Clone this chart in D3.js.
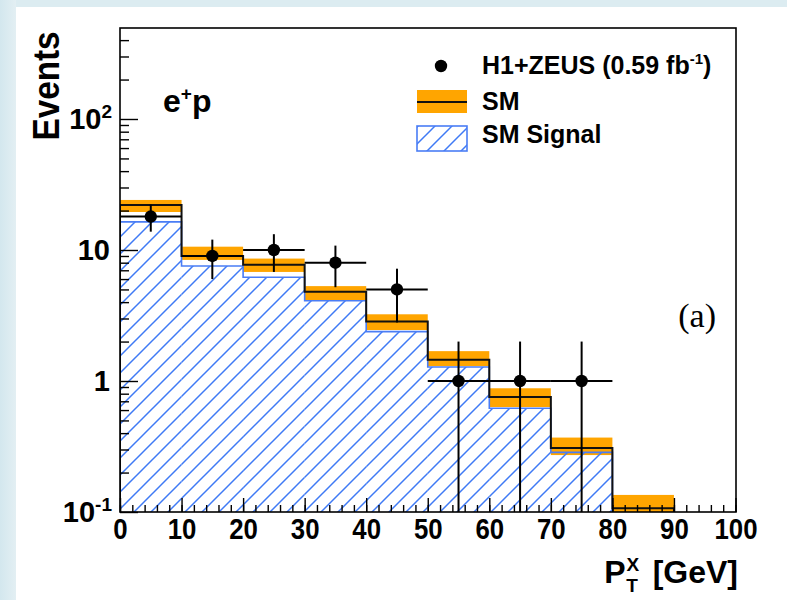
<!DOCTYPE html>
<html>
<head>
<meta charset="utf-8">
<script src="https://cdn.jsdelivr.net/npm/d3@7"></script>
<style>
  body { margin: 0; background: #ffffff; }
  svg { display: block; }
</style>
</head>
<body>
<svg id="chart" width="787" height="600"></svg>
<script>
// ---- data: P_T^X distribution, e+p ----
const binEdges   = [0, 10, 20, 30, 40, 50, 60, 70, 80, 90];
const smTotal    = [22.1, 9.0, 7.7, 4.8, 2.84, 1.45, 0.755, 0.308, 0.107];
const smBandLow  = [19.5, 8.4, 6.8, 4.15, 2.45, 1.30, 0.633, 0.272, 0.08];
const smBandHigh = [24.1, 10.6, 8.6, 5.3, 3.23, 1.69, 0.88, 0.37, 0.135];
const smSignal   = [16.4, 7.55, 6.2, 4.1, 2.38, 1.28, 0.62, 0.285, 0];

const dataCenters = [5, 15, 25, 35, 45, 55, 65, 75];
const dataEvents  = [18, 9, 10, 8, 5, 1, 1, 1];
const dataErrDown = [4.2, 3.0, 3.2, 2.8, 2.2, 1.0, 1.0, 1.0];
const dataErrUp   = [4.2, 3.0, 3.2, 2.8, 2.2, 1.0, 1.0, 1.0];
const dataHalfWidth = 5;

const xMajorTicks = [0, 10, 20, 30, 40, 50, 60, 70, 80, 90, 100];
const xMinorTicks = d3.range(0, 101, 2);
const yMajorTicks = [0.1, 1, 10, 100];
const yLabelBase  = ["10", "1", "10", "10"];
const yLabelExp   = ["-1", "", "", "2"];

const SANS = "'Liberation Sans', Arial, Helvetica, sans-serif";
const SERIF = "'Liberation Serif', 'Times New Roman', serif";

// ---- layout ----
const svg = d3.select("#chart");
const W = 787, H = 600;
const plot = { left: 120, right: 736, top: 28, bottom: 512 };

const x = d3.scaleLinear().domain([0, 100]).range([plot.left, plot.right - 0.5]);
const y = d3.scaleLog().domain([0.1, 495]).range([plot.bottom, plot.top]).clamp(true);

// page backdrop: pale strips on the left and top
const bg = svg.append("defs");
const gradL = bg.append("linearGradient").attr("id", "stripL").attr("x1", 0).attr("x2", 1);
gradL.append("stop").attr("offset", "0%").attr("stop-color", "#d3e7ee");
gradL.append("stop").attr("offset", "100%").attr("stop-color", "#e3eff3");
svg.append("rect").attr("x", 0).attr("y", 0).attr("width", W).attr("height", H).attr("fill", "#ffffff");
svg.append("rect").attr("x", 0).attr("y", 0).attr("width", W).attr("height", 7).attr("fill", "#dcecf1");
svg.append("rect").attr("x", 0).attr("y", 0).attr("width", 16).attr("height", H).attr("fill", "url(#stripL)");

// hatch pattern for the signal histogram
const hs = 17;
const pat = bg.append("pattern").attr("id", "hatch")
  .attr("patternUnits", "userSpaceOnUse").attr("width", hs).attr("height", hs);
pat.append("path")
  .attr("d", `M0,${hs} L${hs},0 M${-hs/2},${hs/2} L${hs/2},${-hs/2} M${hs/2},${hs*1.5} L${hs*1.5},${hs/2}`)
  .attr("stroke", "#3f7af5").attr("stroke-width", 1.5).attr("fill", "none");

bg.append("clipPath").attr("id", "plotClip").append("rect")
  .attr("x", plot.left).attr("y", plot.top)
  .attr("width", plot.right - plot.left).attr("height", plot.bottom - plot.top);

const g = svg.append("g").attr("clip-path", "url(#plotClip)");

const bins = smTotal.map((v, i) => ({
  x0: binEdges[i], x1: binEdges[i + 1], sm: v,
  lo: smBandLow[i], hi: smBandHigh[i], sig: smSignal[i]
}));

// SM uncertainty band
g.selectAll("rect.band").data(bins).join("rect").attr("class", "band")
  .attr("x", d => x(d.x0)).attr("width", d => x(d.x1) - x(d.x0))
  .attr("y", d => y(d.hi)).attr("height", d => y(d.lo) - y(d.hi))
  .attr("fill", "#ffa500");

// signal histogram, hatched
const sigBins = bins.filter(d => d.sig > 0);
g.selectAll("rect.sig").data(sigBins).join("rect").attr("class", "sig")
  .attr("x", d => x(d.x0)).attr("width", d => x(d.x1) - x(d.x0))
  .attr("y", d => y(d.sig)).attr("height", d => plot.bottom - y(d.sig))
  .attr("fill", "url(#hatch)");

// step outline helper
function stepPoints(list, key) {
  const pts = [[list[0].x0, 0.1]];
  list.forEach(d => { pts.push([d.x0, d[key]]); pts.push([d.x1, d[key]]); });
  pts.push([list[list.length - 1].x1, 0.1]);
  return pts;
}
const stepLine = d3.line().x(p => x(p[0])).y(p => y(p[1]));

g.append("path").attr("d", stepLine(stepPoints(sigBins, "sig")))
  .attr("fill", "none").attr("stroke", "#4a7df5").attr("stroke-width", 1.6);

g.append("path").attr("d", stepLine(stepPoints(bins, "sm")))
  .attr("fill", "none").attr("stroke", "#111").attr("stroke-width", 2);

// data points with error bars
const pts = dataCenters.map((c, i) => ({
  c, v: dataEvents[i], lo: dataEvents[i] - dataErrDown[i], hi: dataEvents[i] + dataErrUp[i]
}));
const dg = g.append("g");
dg.selectAll("line.ex").data(pts).join("line").attr("class", "ex")
  .attr("x1", d => x(d.c - dataHalfWidth)).attr("x2", d => x(d.c + dataHalfWidth))
  .attr("y1", d => y(d.v)).attr("y2", d => y(d.v))
  .attr("stroke", "#000").attr("stroke-width", 2);
dg.selectAll("line.ey").data(pts).join("line").attr("class", "ey")
  .attr("x1", d => x(d.c)).attr("x2", d => x(d.c))
  .attr("y1", d => y(d.hi)).attr("y2", d => d.lo > 0 ? y(d.lo) : plot.bottom)
  .attr("stroke", "#000").attr("stroke-width", 2);
dg.selectAll("circle").data(pts).join("circle")
  .attr("cx", d => x(d.c)).attr("cy", d => y(d.v)).attr("r", 6.2).attr("fill", "#000");

// ---- axes ----
const axG = svg.append("g");
// x: minor and major ticks pointing inward
axG.append("g").attr("transform", `translate(0,${plot.bottom})`)
  .call(d3.axisBottom(x).tickValues(xMinorTicks).tickSizeInner(-7).tickSizeOuter(0).tickFormat(""))
  .call(s => s.select(".domain").remove())
  .call(s => s.selectAll("line").attr("stroke", "#000").attr("stroke-width", 1.4));
axG.append("g").attr("transform", `translate(0,${plot.bottom})`)
  .call(d3.axisBottom(x).tickValues(xMajorTicks).tickSizeInner(-14).tickSizeOuter(0).tickPadding(5))
  .call(s => s.select(".domain").remove())
  .call(s => s.selectAll("line").attr("stroke", "#000").attr("stroke-width", 1.4))
  .call(s => s.selectAll("text")
    .style("font-family", SANS)
    .attr("font-weight", "bold").attr("font-size", 30).attr("fill", "#000")
    .attr("transform", "scale(0.86,1)")
    .attr("dy", "0.72em"));

// y: log minor ticks
const yMinorTicks = [];
[0.1, 1, 10, 100].forEach(d => { for (let k = 2; k <= 9; k++) { const v = d * k; if (v <= 495) yMinorTicks.push(v); } });
axG.append("g").attr("transform", `translate(${plot.left},0)`)
  .call(d3.axisLeft(y).tickValues(yMinorTicks).tickSizeInner(-9).tickSizeOuter(0).tickFormat(""))
  .call(s => s.select(".domain").remove())
  .call(s => s.selectAll("line").attr("stroke", "#000").attr("stroke-width", 1.4));
axG.append("g").attr("transform", `translate(${plot.left},0)`)
  .call(d3.axisLeft(y).tickValues(yMajorTicks).tickSizeInner(-18).tickSizeOuter(0).tickFormat(""))
  .call(s => s.select(".domain").remove())
  .call(s => s.selectAll("line").attr("stroke", "#000").attr("stroke-width", 1.4));

// y tick labels with exponents
const yl = axG.append("g").selectAll("text").data(yMajorTicks).join("text")
  .attr("x", (d, i) => yLabelExp[i] ? 112 : 110)
  .attr("y", d => y(d) + 10)
  .attr("text-anchor", "end")
  .style("font-family", SANS)
  .attr("font-weight", "bold").attr("font-size", 29).attr("fill", "#000");
yl.each(function (d, i) {
  const t = d3.select(this);
  t.append("tspan").text(yLabelBase[i]);
  if (yLabelExp[i]) {
    t.append("tspan").attr("dy", -11).attr("font-size", 19).text(yLabelExp[i]);
  }
});

// frame
svg.append("rect").attr("x", plot.left).attr("y", plot.top)
  .attr("width", plot.right - plot.left).attr("height", plot.bottom - plot.top)
  .attr("fill", "none").attr("stroke", "#000").attr("stroke-width", 1.6);

// axis titles
svg.append("text").attr("transform", "translate(59,86) rotate(-90) scale(0.9,1)")
  .attr("text-anchor", "middle").style("font-family", SANS)
  .attr("font-weight", "bold").attr("font-size", 37)
  .attr("fill", "#000").text("Events");

const xt = svg.append("text").attr("x", 738).attr("y", 583).attr("text-anchor", "end")
  .style("font-family", SANS)
  .attr("font-weight", "bold").attr("font-size", 32).attr("fill", "#000");
xt.append("tspan").text("P");
xt.append("tspan").attr("font-size", 19).attr("dx", 1).attr("dy", -12).text("X");
xt.append("tspan").attr("font-size", 19).attr("dx", -13).attr("dy", 21).text("T");
xt.append("tspan").attr("dy", -9).attr("dx", 6).text(" [GeV]");

// process label
const ep = svg.append("text").attr("x", 163).attr("y", 112)
  .style("font-family", SANS)
  .attr("font-weight", "bold").attr("font-size", 32).attr("fill", "#000");
ep.append("tspan").text("e");
ep.append("tspan").attr("font-size", 19).attr("dy", -12).text("+");
ep.append("tspan").attr("dy", 12).text("p");

// panel tag
svg.append("text").attr("x", 716).attr("y", 327).attr("text-anchor", "end")
  .style("font-family", SERIF)
  .attr("font-size", 34).attr("fill", "#000").text("(a)");

// ---- legend ----
const lg = svg.append("g");
const LF = 25;
lg.append("circle").attr("cx", 441).attr("cy", 66).attr("r", 6.2).attr("fill", "#000");
const l1 = lg.append("text").attr("x", 482).attr("y", 74).style("font-family", SANS)
  .attr("font-weight", "bold").attr("font-size", LF).attr("fill", "#000");
l1.append("tspan").text("H1+ZEUS (0.59 fb");
l1.append("tspan").attr("font-size", 15).attr("dy", -10).text("-1");
l1.append("tspan").attr("dy", 10).text(")");

lg.append("rect").attr("x", 417).attr("y", 90).attr("width", 50).attr("height", 23).attr("fill", "#ffa500");
lg.append("line").attr("x1", 417).attr("x2", 467).attr("y1", 102).attr("y2", 102).attr("stroke", "#111").attr("stroke-width", 2);
lg.append("text").attr("x", 482).attr("y", 110).style("font-family", SANS)
  .attr("font-weight", "bold").attr("font-size", LF).attr("fill", "#000").text("SM");

lg.append("rect").attr("x", 417).attr("y", 126).attr("width", 50).attr("height", 25)
  .attr("fill", "url(#hatch)").attr("stroke", "#4a7df5").attr("stroke-width", 1.6);
lg.append("text").attr("x", 482).attr("y", 143).style("font-family", SANS)
  .attr("font-weight", "bold").attr("font-size", LF).attr("fill", "#000").text("SM Signal");
</script>
</body>
</html>
